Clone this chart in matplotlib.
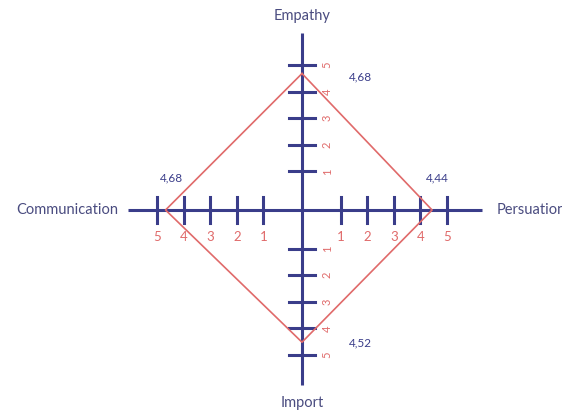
import matplotlib.pyplot as plt

# axis names and scores
axis_names = ['Empathy', 'Persuation', 'Import', 'Communication']
scores = [4.68, 4.44, 4.52, 4.68]
score_labels = ['4,68', '4,44', '4,52', '4,68']
tick_values = [1, 2, 3, 4, 5]

navy = '#3a3d8a'
red = '#e06a6a'
plt.rcParams['font.family'] = ['Lato', 'DejaVu Sans']

fig = plt.figure(figsize=(5.62, 4.12), dpi=100)
ax = fig.add_axes([0, 0, 1, 1])
u = 26.6  # pixels per unit
d = 0.45  # the drawing starts its scale a bit away from the centre
ax.set_xlim(-302 / u, 260 / u)
ax.set_ylim(-202 / u, 210 / u)
ax.axis('off')


def r(v):
    return d + v


# axes lines
ax.plot([-6.54, 6.77], [0, 0], color=navy, lw=2.2, solid_capstyle='butt')
ax.plot([0, 0], [-6.58, 6.65], color=navy, lw=2.2, solid_capstyle='butt')

# ticks
h = 0.48
for t in tick_values:
    for s in (-1, 1):
        ax.plot([s * r(t)] * 2, [-h, h], color=navy, lw=2.2)
        ax.plot([-h, h], [s * r(t)] * 2, color=navy, lw=2.2)
        ax.text(s * r(t), -1.0, str(t), color=red, fontsize=9.5, ha='center', va='center')
        ax.text(0.95, s * r(t), str(t), color=red, fontsize=8, ha='center', va='center', rotation=90)

# score polygon: top, right, bottom, left
e, p, i, c = [r(v) for v in scores]
xs = [0, p, 0, -c, 0]
ys = [e, 0, -i, 0, e]
ax.plot(xs, ys, color=red, lw=1.2)

# score labels
ax.text(2.18, 5.0, score_labels[0], color=navy, fontsize=8.5, ha='center', va='center')
ax.text(5.08, 1.2, score_labels[1], color=navy, fontsize=8.5, ha='center', va='center')
ax.text(2.18, -5.0, score_labels[2], color=navy, fontsize=8.5, ha='center', va='center')
ax.text(-4.89, 1.2, score_labels[3], color=navy, fontsize=8.5, ha='center', va='center')

# axis names
ax.text(0, 7.29, axis_names[0], color='#4a4c80', fontsize=10.5, ha='center', va='center')
ax.text(7.33, 0, axis_names[1], color='#4a4c80', fontsize=10.5, ha='left', va='center')
ax.text(0, -7.26, axis_names[2], color='#4a4c80', fontsize=10.5, ha='center', va='center')
ax.text(-6.92, 0, axis_names[3], color='#4a4c80', fontsize=10.5, ha='right', va='center')

fig.savefig('out.png', dpi=100)
